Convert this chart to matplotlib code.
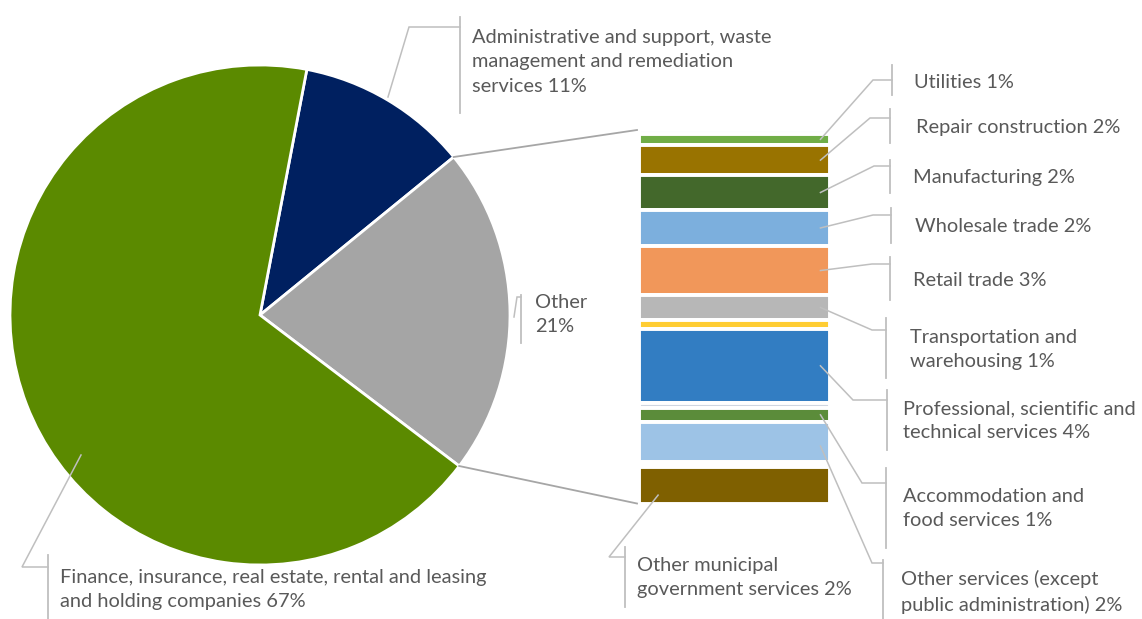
#!/usr/bin/env python3

import numpy as np
import matplotlib.pyplot as plt

W, H = 1142, 619

# Main pie: share of total by industry group
pie_names = [
    "Administrative and support, waste\nmanagement and remediation\nservices",
    "Other\n",
    "Finance, insurance, real estate, rental and leasing\nand holding companies",
]
pie_values = [11, 21, 67]
pie_colors = ["#002060", "#A5A5A5", "#5B8A00"]

# Breakdown of "Other" (top to bottom); None = unlabelled sliver
bar_names = [
    None,
    "Utilities",
    "Repair construction",
    "Manufacturing",
    "Wholesale trade",
    "Retail trade",
    "Transportation and\nwarehousing",
    None,
    "Professional, scientific and\ntechnical services",
    None,
    "Accommodation and\nfood services",
    "Other services (except\npublic administration)",
    None,
    "Other municipal\ngovernment services",
]
bar_values = [0.2, 0.65, 1.69, 1.95, 2.04, 2.75, 1.41, 0.51, 4.13, 0.28, 0.82, 2.25, 0.28, 2.05]
bar_colors = [
    "#DAE3F3", "#70AD47", "#997300", "#43682B", "#7CAFDD", "#F1975A", "#B7B7B7",
    "#FFCD33", "#327DC2", "#D0D6E0", "#5B8C3A", "#9DC3E6", "#FFFFFF", "#7F6000",
]

TEXT = "#595959"
LEADER = "#BFBFBF"
FONT = "Lato"
FSIZE = 14.4

# label layout in pixels from the top-left corner:
# anchor, elbow, bracket x, bracket top/bottom, text x, text centre y
pie_layout = [
    ((388, 97), (409, 27), 460, 17, 113, 472, 62),
    ((514, 317), (517, 297), 521, 295, 343, 535, 315),
    ((81, 455), (22, 567), 48, 555, 619, 60, 590),
]
# anchor given in bar-axes x and fraction down the segment
bar_layout = {
    "Utilities": ((0.45, 0.5), (873, 80), 892, 65, 95, 914, 82),
    "Repair construction": ((0.45, 0.5), (870, 118), 890, 109, 143, 916, 128),
    "Manufacturing": ((0.45, 0.5), (874, 166), 890, 160, 193, 913, 178),
    "Wholesale trade": ((0.45, 0.5), (873, 215), 891, 208, 243, 915, 226),
    "Retail trade": ((0.45, 0.5), (872, 264), 890, 257, 300, 913, 280),
    "Transportation and\nwarehousing": ((0.45, 0.5), (872, 330), 886, 318, 378, 910, 350),
    "Professional, scientific and\ntechnical services": ((0.45, 0.5), (853, 400), 887, 390, 450, 903, 421),
    "Accommodation and\nfood services": ((0.45, 0.5), (862, 483), 886, 468, 548, 903, 509),
    "Other services (except\npublic administration)": ((0.45, 0.6), (872, 563), 883, 560, 619, 901, 592),
    "Other municipal\ngovernment services": ((-0.4, 0.77), (609, 557), 625, 547, 607, 637, 578),
}


def pct_label(name, value):
    sep = "" if name.endswith("\n") else " "
    return f"{name}{sep}{value:.0f}%"


def draw_leader(ax, anchor, elbow, bx, by0, by1, tx, ty, text):
    """Leader line with an elbow, a bracket next to the label, and the label."""
    xs = [anchor[0], elbow[0], bx]
    ys = [H - anchor[1], H - elbow[1], H - elbow[1]]
    ax.plot(xs, ys, color=LEADER, lw=1.1, solid_joinstyle="miter")
    ax.plot([bx, bx], [H - by0, H - by1], color=LEADER, lw=1.3)
    ax.text(tx, H - ty, text, ha="left", va="center", color=TEXT,
            fontsize=FSIZE, family=[FONT, "DejaVu Sans"], linespacing=1.5)


fig = plt.figure(figsize=(W / 100, H / 100), dpi=100)

# Bar of the "Other" slice, in its own axes below the annotation layer
bar_left, bar_right, bar_top, bar_bottom = 639, 830, 130, 503.5
bax = fig.add_axes([bar_left / W, (H - bar_bottom) / H,
                    (bar_right - bar_left) / W, (bar_bottom - bar_top) / H])
total = sum(bar_values)
bottoms = np.concatenate([[0], np.cumsum(bar_values)[:-1]])
bax.bar(0, bar_values, bottom=bottoms, width=1.0, color=bar_colors,
        edgecolor="white", linewidth=2.8)
bax.set_xlim(-0.5, 0.5)
bax.set_ylim(total, 0)
bax.axis("off")

ax = fig.add_axes([0, 0, 1, 1])

# Pie, drawn clockwise like the spreadsheet original
start = 79.2
cx, cy, r = 260, H - 315, 250
ax.pie(pie_values, colors=pie_colors, startangle=start, counterclock=False,
       center=(cx, cy), radius=r,
       wedgeprops=dict(edgecolor="white", linewidth=2))
ax.set_xlim(0, W)
ax.set_ylim(0, H)
ax.set_aspect("equal")
ax.axis("off")

# Connector lines from the "Other" slice edges to the bar
bounds = start - np.cumsum([0] + pie_values) / sum(pie_values) * 360
for ang, corner in [(bounds[1], (0, 1)), (bounds[2], (0, 0))]:
    px = cx + r * np.cos(np.radians(ang))
    py = cy + r * np.sin(np.radians(ang))
    qx, qy = ax.transData.inverted().transform(bax.transAxes.transform(corner))
    ax.plot([px, qx - 2], [py, qy], color="#A6A6A6", lw=1.3)

# Pie labels
for name, value, lay in zip(pie_names, pie_values, pie_layout):
    draw_leader(ax, *lay, pct_label(name, value))

# Bar labels
for name, value, bottom in zip(bar_names, bar_values, bottoms):
    if name is None:
        continue
    (axx, frac), elbow, bx, by0, by1, tx, ty = bar_layout[name]
    disp = bax.transData.transform((axx, bottom + frac * value))
    x, y = ax.transData.inverted().transform(disp)
    draw_leader(ax, (x, H - y), elbow, bx, by0, by1, tx, ty, pct_label(name, value))

fig.savefig("out.png", dpi=100)
